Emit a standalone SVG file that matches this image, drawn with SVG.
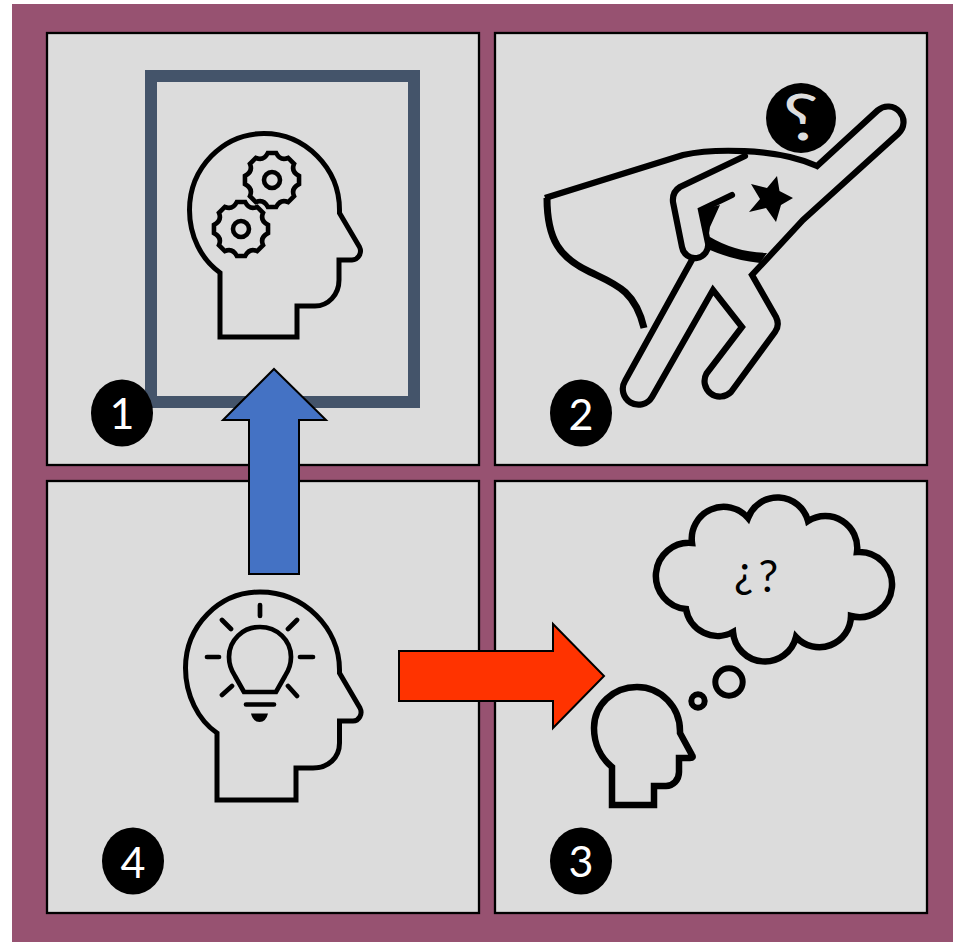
<svg xmlns="http://www.w3.org/2000/svg" width="953" height="942" viewBox="0 0 953 942">
<style>
.panel{fill:#dcdcdc;stroke:#000;stroke-width:2.300}
.ink{fill:none;stroke:#000;stroke-linejoin:miter;stroke-miterlimit:8}
.ray{fill:none;stroke:#000;stroke-width:4.700;stroke-linecap:round}
.badge{fill:#000}
.num{font-family:Lato,"Liberation Sans",sans-serif;font-size:43px;fill:#fff;text-anchor:middle}
.arr{stroke:#000;stroke-width:2}
</style>
<defs>
<g id="gear" transform="scale(1.04)">
<path class="ink" stroke-width="4.400" d="M-4,-26L4,-26Q8,-18 15.56,-21.2L21.2,-15.56Q18,-8 26,-4L26,4Q18,8 21.2,15.56L15.56,21.2Q8,18 4,26L-4,26Q-8,18 -15.56,21.2L-21.2,15.56Q-18,8 -26,4L-26,-4Q-18,-8 -21.2,-15.56L-15.56,-21.2Q-8,-18 -4,-26Z"/>
<circle class="ink" stroke-width="4.400" r="7.700"/>
</g>
</defs>
<rect width="953" height="942" fill="#fff"/>
<rect x="12" y="4" width="941" height="938" fill="#975271"/>
<rect class="panel" x="47" y="33" width="432" height="432"/>
<rect class="panel" x="495" y="33" width="432" height="432"/>
<rect class="panel" x="47" y="481" width="432" height="432"/>
<rect class="panel" x="495" y="481" width="432" height="432"/>

<g id="node-1">
<rect x="151" y="76" width="263" height="326" fill="none" stroke="#44546a" stroke-width="12"/>
<path class="ink" stroke-width="5" d="M220,272.7C201,259 189.500,236 189.500,210C189.500,168 223,133.500 264,133.500C305,133.500 339.500,168 339.500,210V213L359.500,247C362.500,253 358,260 352,260H339V280C339,295 328,306 315,306H297V337H220Z"/>
<use href="#gear" x="272" y="180"/>
<use href="#gear" x="241" y="229"/>
<ellipse class="badge" cx="122" cy="413" rx="31" ry="33.500"/>
<text class="num" x="122" y="429">1</text>
</g>

<g id="node-2">
<path class="ink" stroke-width="6.200" d="M545,198L683,155C710,149 775,147 817,166L877.7,110.4A15.5,15.5 0 0 1 898.3,133.6L803,220L752,275L776,317Q780,325 775,332L731,392A15.5,15.5 0 0 1 706.5,373.5L742,327L713,290L652,397A15.5,15.5 0 0 1 625,381L693,258"/>
<path class="ink" stroke-width="6.200" d="M745,156L680,187Q672,192 673,202L682,247A13,13 0 0 0 708,243L701,210L732,195" stroke-linecap="round"/>
<path d="M700,210L720,205L710,227L708,240Z" fill="#000"/>
<path d="M710,237Q735,252 767,253L760,263Q733,260 710,250Z" fill="#000"/>
<path class="ink" stroke-width="7" d="M547,198C547,240 560,258 590,272C615,284 635,290 644,328"/>
<path d="M777,176L779.5,191L793,198L781,205L776,222L766,208L749,212L760,199L751,184L767,188Z" fill="#000"/>
<circle class="badge" cx="801" cy="118" r="35"/>
<text font-family="Lato,sans-serif" font-size="64" fill="#dedede" text-anchor="middle" transform="translate(801,139.500) scale(-1.25,1)">?</text>
<ellipse class="badge" cx="581" cy="413" rx="31" ry="33.500"/>
<text class="num" x="581" y="430">2</text>
</g>

<g id="node-3">
<path class="ink" stroke-width="6.500" d="M686,609A33,33 0 0 1 692,543A32,32 0 0 1 748,518A31.5,31.5 0 0 1 808,521A32,32 0 0 1 857,552A32.6,32.6 0 1 1 851,616A31.7,31.7 0 0 1 796,637A32,32 0 0 1 733,632A32,32 0 0 1 686,609Z"/>
<text font-family="Lato,sans-serif" font-size="44" fill="#000"><tspan x="734" y="586.700">¿</tspan><tspan x="758.500" y="592">?</tspan></text>
<circle class="ink" stroke-width="6" cx="729" cy="682" r="13.7"/>
<circle class="ink" stroke-width="6" cx="698" cy="701" r="6.7"/>
<path class="ink" stroke-width="6.500" d="M612,767C601,758 594,744 594,728C594,705 613,687 637,687C661,687 680,707 680,731V733L692,755Q694,758 690,758H679V772C679,780 673,786 666,786H654V805H612Z"/>
<ellipse class="badge" cx="581" cy="861" rx="31" ry="33.500"/>
<text class="num" x="581" y="877">3</text>
</g>

<g id="node-4">
<path class="ink" stroke-width="5" d="M217,733C198,720 185.500,695 185.500,668C185.500,626 219,592 260,592C304,592 339.500,628 339.500,670V673L360,708C363,714 359,721 353,721H339.500V743C339.500,758 328,768 313,768H296V800H217Z"/>
<path class="ink" stroke-width="4.700" d="M244,692L235,676C231,670 229,664 229,657C229,640 243,627 260,627C277,627 291,640 291,657C291,664 289,670 285,676L276,692Z"/>
<path class="ray" d="M260,605V616M288,629L297,620M300,657H313M207,657H219M222,620L231,629M222,695L232,686M288,686L297,696M246,704.5H274"/>
<path d="M251,713.5H268Q266,722 259.500,722Q253,722 251,713.500Z" fill="#000"/>
<ellipse class="badge" cx="133" cy="861" rx="31" ry="33.500"/>
<text class="num" x="133" y="878">4</text>
</g>

<g id="connectors">
<path class="arr" fill="#4472c4" d="M249,574V420H223L274,369L326,420H299V574Z"/>
<path class="arr" fill="#ff3300" d="M399,651H553V624L604,676L553,728V701H399Z"/>
</g>
</svg>
